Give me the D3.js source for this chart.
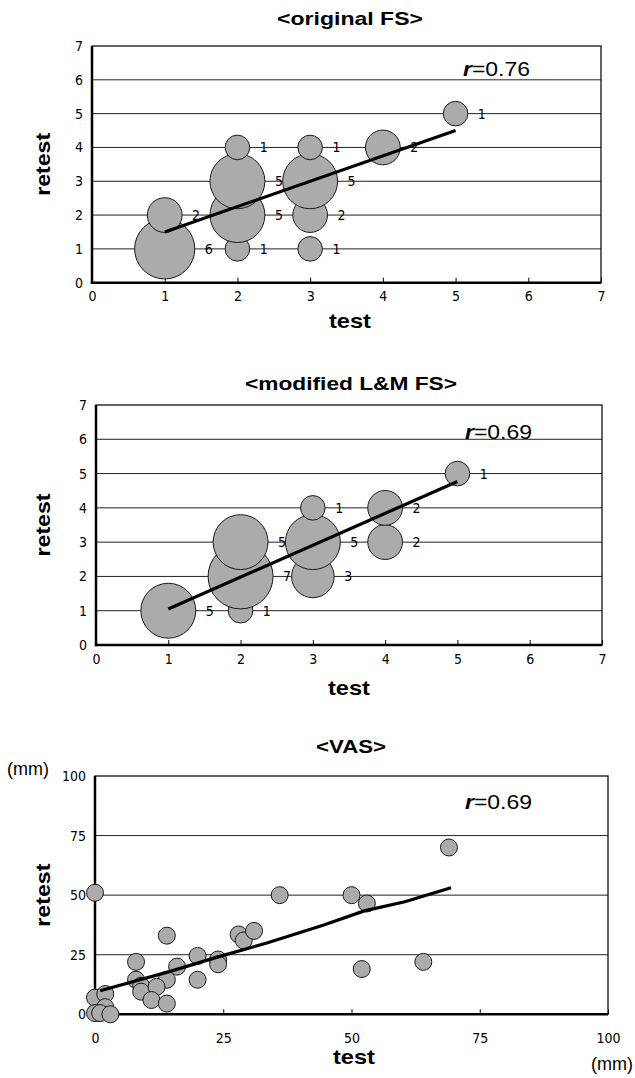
<!DOCTYPE html>
<html>
<head>
<meta charset="utf-8">
<script src="https://cdn.jsdelivr.net/npm/d3@7"></script>
<style>
  body { margin: 0; background: #fff; }
  svg { display: block; }
</style>
</head>
<body>
<svg id="chart"></svg>
<script>
const W = 635, H = 1078;

// <original FS> : test score, retest score, number of patients
const fsTest   = [1, 1, 2, 2, 2, 2, 3, 3, 3, 3, 4, 5];
const fsRetest = [1, 2, 1, 2, 3, 4, 1, 2, 3, 4, 4, 5];
const fsCount  = [6, 2, 1, 5, 5, 1, 1, 2, 5, 1, 2, 1];
const fsTrendX = [1, 5];
const fsTrendY = [1.5, 4.5];

// <modified L&M FS>
const lmTest   = [1, 2, 2, 2, 3, 3, 3, 4, 4, 5];
const lmRetest = [1, 1, 2, 3, 2, 3, 4, 3, 4, 5];
const lmCount  = [5, 1, 7, 5, 3, 5, 1, 2, 2, 1];
const lmTrendX = [1, 5];
const lmTrendY = [1.05, 4.77];

// <VAS> (mm)
const vasTest   = [0, 69, 36, 50, 53, 28, 29, 31, 14, 20, 24, 24, 20, 16, 8, 8, 14, 9, 9, 12, 11, 14, 64, 52, 0, 2, 2, 0, 1, 3];
const vasRetest = [51, 70, 50, 50, 46.5, 33.5, 31, 35, 33, 24.5, 23, 21, 14.5, 20, 22, 14.5, 14.5, 12, 9.5, 11.5, 6, 4.5, 22, 19, 7, 8.5, 3, 0.5, 0.5, 0];
const vasTrendX = [1, 14.5, 24, 33.5, 44.6, 52.5, 60.4, 69.4];
const vasTrendY = [9.9, 17.9, 24.1, 29.9, 37.5, 43.4, 47.2, 53.1];

const fsTicks  = [0, 1, 2, 3, 4, 5, 6, 7];
const vasTicks = [0, 25, 50, 75, 100];

const tickFont = "'Liberation Sans Narrow', 'DejaVu Sans Condensed', sans-serif";
const mainFont = "'Liberation Sans', Arial, sans-serif";

const svg = d3.select("#chart").attr("width", W).attr("height", H);

// bubble size: area proportional to count
const rScale = d3.scaleSqrt().domain([0, 7]).range([0, 32.5]);

// wide bold label, stretched to the width seen in the picture
function wideText(x, y, txt, size, width) {
  return svg.append("text")
    .attr("x", x).attr("y", y)
    .attr("text-anchor", "middle")
    .attr("font-family", mainFont).attr("font-weight", "bold").attr("font-size", size)
    .attr("textLength", width).attr("lengthAdjust", "spacingAndGlyphs")
    .text(txt);
}

function panel(o) {
  const x = d3.scaleLinear().domain([0, o.max]).range([o.l, o.r]);
  const y = d3.scaleLinear().domain([0, o.max]).range([o.b, o.t]);

  wideText(o.titleX, o.titleY, o.title, 19, o.titleW);

  // gridlines
  svg.append("g").selectAll("line")
    .data(o.ticks.slice(1, -1))
    .join("line")
    .attr("x1", o.l).attr("x2", o.r)
    .attr("y1", d => y(d)).attr("y2", d => y(d))
    .attr("stroke", "#222").attr("stroke-width", 1);

  // frame
  svg.append("rect")
    .attr("x", o.l).attr("y", o.t)
    .attr("width", o.r - o.l).attr("height", o.b - o.t)
    .attr("fill", "none").attr("stroke", "#111").attr("stroke-width", 1.3);

  // axes
  const xAxis = svg.append("g")
    .attr("transform", `translate(0,${o.b})`)
    .call(d3.axisBottom(x).tickValues(o.ticks).tickFormat(d3.format("d")).tickSize(-5).tickPadding(o.xPad));
  const yAxis = svg.append("g")
    .attr("transform", `translate(${o.l},0)`)
    .call(d3.axisLeft(y).tickValues(o.ticks).tickFormat(d3.format("d")).tickSize(0).tickPadding(9));
  [xAxis, yAxis].forEach(g => {
    g.select(".domain").remove();
    g.selectAll("text").attr("font-family", tickFont).attr("font-size", 14).attr("fill", "#000");
    g.selectAll("line").attr("stroke", "#000");
  });

  svg.append("line").attr("x1", o.l).attr("x2", o.l).attr("y1", o.t).attr("y2", o.b + 1.2)
    .attr("stroke", "#000").attr("stroke-width", 2.5);
  svg.append("line").attr("x1", o.l - 1.2).attr("x2", o.r).attr("y1", o.b).attr("y2", o.b)
    .attr("stroke", "#000").attr("stroke-width", 2.5);

  // marks
  if (o.count) {
    const pts = o.xs.map((d, i) => ({x: d, y: o.ys[i], n: o.count[i]}));
    svg.append("g").selectAll("circle")
      .data(pts)
      .join("circle")
      .attr("cx", d => x(d.x)).attr("cy", d => y(d.y))
      .attr("r", d => rScale(d.n))
      .attr("fill", "#ababab").attr("stroke", "#1a1a1a").attr("stroke-width", 1);
    svg.append("g").selectAll("text")
      .data(pts)
      .join("text")
      .attr("x", d => x(d.x) + rScale(d.n) + 14)
      .attr("y", d => y(d.y))
      .attr("dy", "0.36em")
      .attr("text-anchor", "middle")
      .attr("font-family", tickFont).attr("font-size", 14)
      .text(d => d.n);
  } else {
    svg.append("g").selectAll("circle")
      .data(o.xs.map((d, i) => [d, o.ys[i]]))
      .join("circle")
      .attr("cx", d => x(d[0])).attr("cy", d => y(d[1]))
      .attr("r", 8.5)
      .attr("fill", "#ababab").attr("stroke", "#1a1a1a").attr("stroke-width", 1);
  }

  // regression line
  svg.append("path")
    .datum(o.tx.map((d, i) => [d, o.ty[i]]))
    .attr("d", d3.line().x(d => x(d[0])).y(d => y(d[1])))
    .attr("fill", "none").attr("stroke", "#000").attr("stroke-width", 3.2);

  // r value
  const rt = svg.append("text")
    .attr("x", o.rX).attr("y", o.rY)
    .attr("font-family", mainFont).attr("font-size", 20)
    .attr("textLength", 67).attr("lengthAdjust", "spacingAndGlyphs");
  rt.append("tspan").attr("font-weight", "bold").attr("font-style", "italic").text("r");
  rt.append("tspan").text("=" + o.rVal);

  // axis titles
  wideText(o.testX, o.testY, "test", 21, 42);
  wideText(0, 0, "retest", 21, 63)
    .attr("x", null).attr("y", null)
    .attr("transform", `translate(50,${(o.t + o.b) / 2}) rotate(-90)`);
}

panel({
  l: 92, r: 601, t: 46, b: 282.7, max: 7, ticks: fsTicks, xPad: 8,
  title: "<original FS>", titleX: 350, titleY: 25, titleW: 146, testX: 350, testY: 328,
  xs: fsTest, ys: fsRetest, count: fsCount, tx: fsTrendX, ty: fsTrendY,
  rX: 463, rY: 76, rVal: "0.76"
});

panel({
  l: 96, r: 602, t: 405, b: 645, max: 7, ticks: fsTicks, xPad: 9,
  title: "<modified L&M FS>", titleX: 351, titleY: 390, titleW: 212, testX: 349, testY: 695,
  xs: lmTest, ys: lmRetest, count: lmCount, tx: lmTrendX, ty: lmTrendY,
  rX: 465, rY: 439, rVal: "0.69"
});

panel({
  l: 95, r: 608, t: 776, b: 1014.3, max: 100, ticks: vasTicks, xPad: 19,
  title: "<VAS>", titleX: 351, titleY: 753, titleW: 70, testX: 354, testY: 1064,
  xs: vasTest, ys: vasRetest, count: null, tx: vasTrendX, ty: vasTrendY,
  rX: 465, rY: 809, rVal: "0.69"
});

// unit labels for VAS
svg.append("text").attr("x", 7).attr("y", 775)
  .attr("font-family", mainFont).attr("font-size", 18).text("(mm)");
svg.append("text").attr("x", 633).attr("y", 1070).attr("text-anchor", "end")
  .attr("font-family", mainFont).attr("font-size", 18).text("(mm)");
</script>
</body>
</html>
